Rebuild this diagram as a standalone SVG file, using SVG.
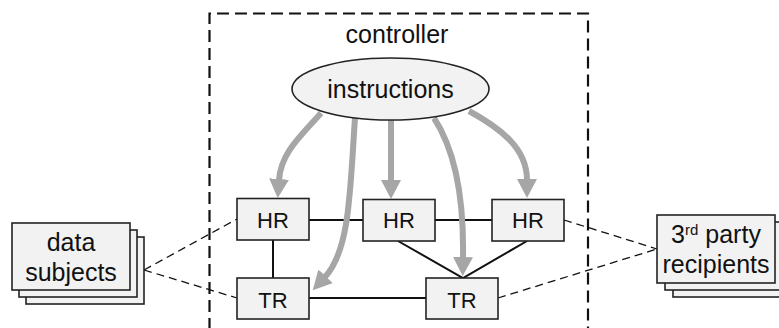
<svg xmlns="http://www.w3.org/2000/svg" width="779" height="328" viewBox="0 0 779 328">
<defs>
<style>
.t{font-family:"Liberation Sans",Arial,sans-serif;fill:#111;text-anchor:middle}
.big{font-size:25px}
.mid{font-size:22px}
.box{fill:#f2f2f2;stroke:#222;stroke-width:1.6}
.solid{stroke:#111;stroke-width:2;fill:none}
.dash{stroke:#111;stroke-width:1.3;stroke-dasharray:8 5;fill:none}
.gray{stroke:#a6a6a6;stroke-width:6;fill:none;marker-end:url(#ah)}
</style>
<marker id="ah" markerUnits="userSpaceOnUse" markerWidth="20" markerHeight="20" refX="1" refY="10" orient="auto" viewBox="0 0 20 20">
<path d="M0,0 L19,10 L0,20 z" fill="#a6a6a6"/>
</marker>
</defs>
<rect width="779" height="328" fill="#fff"/>
<g id="controller">
<path d="M209.5,330 V13.5 H588 V330" fill="none" stroke="#111" stroke-width="2.2" stroke-dasharray="12 6"/>
<text class="t big" x="397" y="43">controller</text>
</g>
<g id="connectors">
<path class="dash" d="M144,270 L237,219"/>
<path class="dash" d="M144,270 L237,298"/>
<path class="dash" d="M564,220 L657,249"/>
<path class="dash" d="M498,298 L657,249"/>
<path class="solid" d="M309,220 H363"/>
<path class="solid" d="M435,220 H492"/>
<path class="solid" d="M273,240 V278"/>
<path class="solid" d="M309,298 H426"/>
<path class="solid" d="M398,241 L463,278 L527,241"/>
<path class="gray" d="M321,113 C302,135 281,152 279,180"/>
<path class="gray" d="M355,118 C350,190 350,250 325,277"/>
<path class="gray" d="M391,120 V181"/>
<path class="gray" d="M434,118 C455,150 464,200 463,258"/>
<path class="gray" d="M469,111 C500,128 527,148 527,180"/>
</g>
<g id="instructions">
<ellipse class="box" cx="390.5" cy="89" rx="98.5" ry="31"/>
<text class="t big" x="390.5" y="98">instructions</text>
</g>
<g id="hr1">
<rect class="box" x="237" y="198.5" width="72" height="41.5"/>
<text class="t mid" x="273" y="227.5">HR</text>
</g>
<g id="hr2">
<rect class="box" x="363" y="199.5" width="72" height="41.5"/>
<text class="t mid" x="399" y="228">HR</text>
</g>
<g id="hr3">
<rect class="box" x="492" y="199.5" width="72" height="41.5"/>
<text class="t mid" x="528" y="228">HR</text>
</g>
<g id="tr1">
<rect class="box" x="237" y="278" width="72" height="41"/>
<text class="t mid" x="273" y="308">TR</text>
</g>
<g id="tr2">
<rect class="box" x="426" y="278" width="72" height="41"/>
<text class="t mid" x="462" y="308">TR</text>
</g>
<g id="data-subjects">
<rect class="box" x="26" y="237" width="118" height="67"/>
<rect class="box" x="19" y="230" width="118" height="67"/>
<rect class="box" x="12" y="223" width="118" height="67"/>
<text class="t big" x="71" y="251">data</text>
<text class="t big" x="71" y="281">subjects</text>
</g>
<g id="third-party">
<rect class="box" x="673" y="229" width="118" height="68"/>
<rect class="box" x="665" y="222" width="118" height="68"/>
<rect class="box" x="657" y="215" width="118" height="68"/>
<text class="t big" x="716" y="243">3<tspan font-size="15" baseline-shift="super">rd</tspan> party</text>
<text class="t big" x="716" y="273">recipients</text>
</g>
</svg>
